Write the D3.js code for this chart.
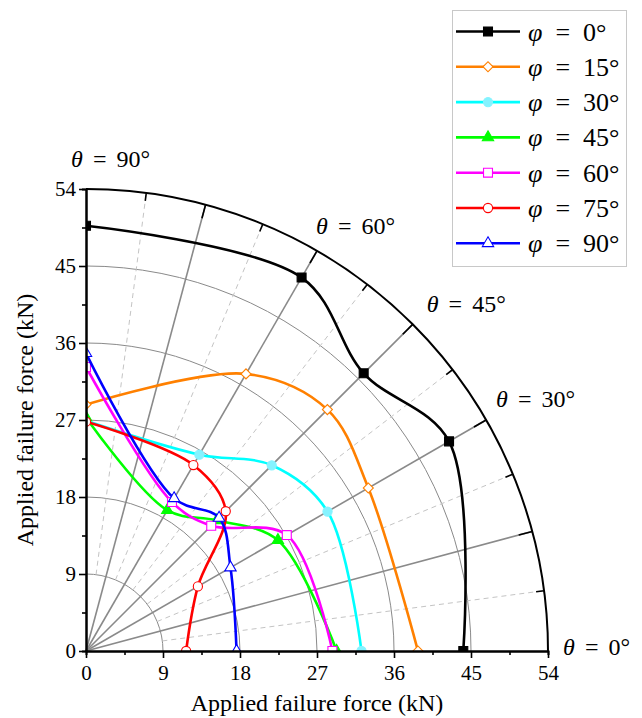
<!DOCTYPE html>
<html>
<head>
<meta charset="utf-8">
<style>
  body { margin: 0; background: #fff; }
  svg text { font-family: "Liberation Serif", serif; }
  .grid-arc { fill: none; stroke: #8a8a8a; stroke-width: 1; }
  .spoke { stroke: #8a8a8a; stroke-width: 1.6; }
  .spoke-minor { stroke: #c4c4c4; stroke-width: 1; stroke-dasharray: 5,4; }
  .axis path, .axis line { stroke: #000; }
  .axis path { stroke-width: 2; }
  .axis line { stroke-width: 1.6; }
  .axis text { font-family: "Liberation Serif", serif; font-size: 21px; fill: #000; }
  .series { fill: none; stroke-width: 2.6; }
</style>
</head>
<body>
<svg width="642" height="718"></svg>
<script src="https://cdn.jsdelivr.net/npm/d3@7"></script>
<script>
// angles (theta, degrees) where each curve has a data point
var thetas = [0, 30, 45, 60, 90];

// applied failure force (kN) for each phi, in the order of thetas
var phi0  = [44.1, 49.0, 45.9, 50.4, 49.7];
var phi15 = [38.8, 38.1, 39.9, 37.4, 28.8];
var phi30 = [32.2, 32.6, 30.7, 26.5, 26.9];
var phi45 = [29.3, 25.9, 21.6, 19.0, 27.3];
var phi60 = [28.8, 27.1, 20.7, 20.1, 33.2];
var phi75 = [11.7, 15.1, 23.1, 25.1, 26.8];
var phi90 = [17.6, 19.5, 22.0, 20.6, 34.8];

var phiNames = ["0°", "15°", "30°", "45°", "60°", "75°", "90°"];
var forceTicks = [0, 9, 18, 27, 36, 45, 54];
var thetaLabels = [90, 60, 45, 30, 0];

var svg = d3.select("svg"),
    cx = 86, cy = 651, R = 462;

var r = d3.scaleLinear().domain([0, 54]).range([0, R]);
var x = d3.scaleLinear().domain([0, 54]).range([cx, cx + R]);
var y = d3.scaleLinear().domain([0, 54]).range([cy, cy - R]);

function px(t, v) { return cx + r(v) * Math.cos(t * Math.PI / 180); }
function py(t, v) { return cy - r(v) * Math.sin(t * Math.PI / 180); }

var grid = svg.append("g");

// circular grid lines
[9, 18, 27, 36, 45].forEach(function(v) {
  var p = d3.path();
  p.moveTo(cx + r(v), cy);
  p.arc(cx, cy, r(v), 0, -Math.PI / 2, true);
  grid.append("path").attr("class", "grid-arc").attr("d", p.toString());
});

// radial lines
d3.range(7.5, 90, 7.5).forEach(function(t) {
  var major = (t % 15 === 0);
  grid.append("line")
      .attr("class", major ? "spoke" : "spoke-minor")
      .attr("x1", px(t, major ? 0 : 9)).attr("y1", py(t, major ? 0 : 9))
      .attr("x2", px(t, 54)).attr("y2", py(t, 54));
});

// outer arc + ticks
var outer = d3.path();
outer.moveTo(cx + R, cy);
outer.arc(cx, cy, R, 0, -Math.PI / 2, true);
grid.append("path").attr("d", outer.toString())
    .attr("fill", "none").attr("stroke", "#000").attr("stroke-width", 2);

d3.range(7.5, 90, 7.5).forEach(function(t) {
  var len = (t % 15 === 0) ? 14 : 8;
  var a = t * Math.PI / 180;
  grid.append("line")
      .attr("x1", cx + R * Math.cos(a)).attr("y1", cy - R * Math.sin(a))
      .attr("x2", cx + (R - len) * Math.cos(a)).attr("y2", cy - (R - len) * Math.sin(a))
      .attr("stroke", "#000").attr("stroke-width", 1.6);
});

// series
var series = [
  {name: phiNames[0], values: phi0,  color: "#000000", fill: "#000000", shape: "square"},
  {name: phiNames[1], values: phi15, color: "#ff8000", fill: "#ffffff", shape: "diamond"},
  {name: phiNames[2], values: phi30, color: "#00ffff", fill: "#85f3ff", shape: "circle", mstroke: "#85f3ff"},
  {name: phiNames[3], values: phi45, color: "#00ff00", fill: "#00ff00", shape: "triangle"},
  {name: phiNames[4], values: phi60, color: "#ff00ff", fill: "#ffffff", shape: "square"},
  {name: phiNames[5], values: phi75, color: "#ff0000", fill: "#ffffff", shape: "circle"},
  {name: phiNames[6], values: phi90, color: "#0000ff", fill: "#ffffff", shape: "triangle"}
];

var symbolType = {
  square: d3.symbolSquare, diamond: d3.symbolSquare,
  circle: d3.symbolCircle, triangle: d3.symbolTriangle
};
var symbolSize = {square: 80, diamond: 50, circle: 66, triangle: 56};

function marker(sel, d) {
  sel.attr("d", d3.symbol().type(symbolType[d.shape]).size(symbolSize[d.shape])())
     .attr("fill", d.fill)
     .attr("stroke", d.mstroke || d.color)
     .attr("stroke-width", 1.1);
}

svg.append("clipPath").attr("id", "quad")
  .append("rect").attr("x", cx).attr("y", 0).attr("width", 642 - cx).attr("height", cy);

var line = d3.line()
    .x(function(d) { return px(d.t, d.v); })
    .y(function(d) { return py(d.t, d.v); })
    .curve(d3.curveCatmullRom.alpha(0.5));

var plot = svg.append("g").attr("clip-path", "url(#quad)");

series.forEach(function(s) {
  var pts = thetas.map(function(t, i) { return {t: t, v: s.values[i]}; });
  plot.append("path").attr("class", "series")
      .attr("stroke", s.color)
      .attr("d", line(pts));
  pts.forEach(function(p) {
    plot.append("path")
        .attr("transform", "translate(" + px(p.t, p.v) + "," + py(p.t, p.v) + ")" +
              (s.shape === "diamond" ? " rotate(45)" : ""))
        .call(marker, s);
  });
});

// cartesian axes
var minorTicks = d3.range(4.5, 54, 9);

svg.append("g").attr("class", "axis")
    .attr("transform", "translate(0," + cy + ")")
    .call(d3.axisBottom(x).tickValues(minorTicks).tickSize(4).tickFormat(""));
svg.append("g").attr("class", "axis")
    .attr("transform", "translate(0," + cy + ")")
    .call(d3.axisBottom(x).tickValues(forceTicks).tickSize(7).tickSizeOuter(0).tickPadding(7).tickFormat(d3.format("d")));

svg.append("g").attr("class", "axis")
    .attr("transform", "translate(" + cx + ",0)")
    .call(d3.axisLeft(y).tickValues(minorTicks).tickSize(4).tickFormat(""));
svg.append("g").attr("class", "axis")
    .attr("transform", "translate(" + cx + ",0)")
    .call(d3.axisLeft(y).tickValues(forceTicks).tickSize(7).tickSizeOuter(0).tickPadding(3).tickFormat(d3.format("d")));

// axis titles
svg.append("text")
    .attr("x", (x(0) + x(54)) / 2).attr("y", 711)
    .attr("text-anchor", "middle").attr("font-size", 24)
    .text("Applied failure force (kN)");

svg.append("text")
    .attr("transform", "translate(33," + (y(0) + y(54)) / 2 + ") rotate(-90)")
    .attr("text-anchor", "middle").attr("font-size", 24)
    .text("Applied failure force (kN)");

// "symbol = value" label made of tspans so the spacing stays in the serif font
function eqLabel(sel, sym, val, gap) {
  sel.append("tspan").attr("font-style", "italic").text(sym);
  sel.append("tspan").attr("dx", gap).text("=");
  sel.append("tspan").attr("dx", gap).text(val);
}

// theta labels
var labelOffset = {90: [-15, -22], 60: [-1, -17], 45: [14, -12], 30: [10, -13], 0: [15, 4]};
thetaLabels.forEach(function(t) {
  svg.append("text")
      .attr("x", px(t, 54) + labelOffset[t][0])
      .attr("y", py(t, 54) + labelOffset[t][1])
      .attr("font-size", 24)
      .call(eqLabel, "θ", t + "°", "0.42em");
});

// legend
var lg = svg.append("g");
lg.append("rect")
    .attr("x", 452.5).attr("y", 10.5).attr("width", 174).attr("height", 256)
    .attr("fill", "#fff").attr("stroke", "#c8c8c8").attr("stroke-width", 1);

series.forEach(function(s, i) {
  var ly = 31.5 + i * 35.3;
  var row = lg.append("g").attr("transform", "translate(0," + ly + ")");
  row.append("line").attr("x1", 456).attr("x2", 520).attr("y1", 0).attr("y2", 0)
     .attr("stroke", s.color).attr("stroke-width", 2.6);
  row.append("path")
     .attr("transform", "translate(488,0)" + (s.shape === "diamond" ? " rotate(45)" : ""))
     .call(marker, s);
  row.append("text").attr("x", 528).attr("y", 9).attr("font-size", 26)
     .call(eqLabel, "φ", s.name, "0.5em");
});
</script>
</body>
</html>
